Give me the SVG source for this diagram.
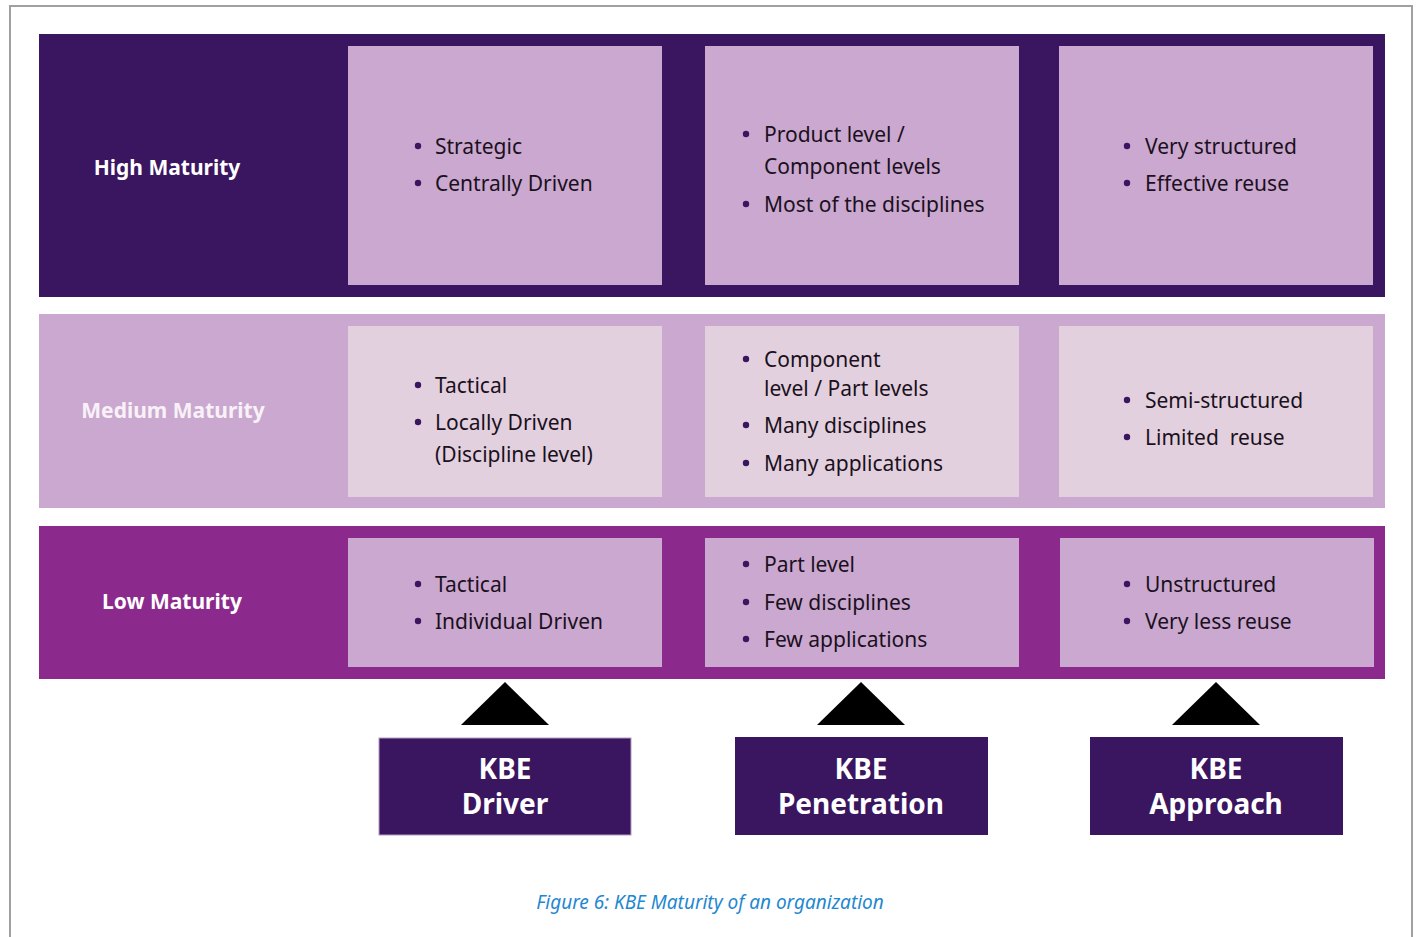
<svg xmlns="http://www.w3.org/2000/svg" width="1418" height="937" viewBox="0 0 1418 937">
<style>
.dark{fill:#3a1560}
.lilac{fill:#cba8cf}
.pale{fill:#e3d0de}
.mag{fill:#8b2a8c}
.t{font-family:"Noto Sans","Open Sans",sans-serif;font-size:21px;fill:#1a1020}
.b{fill:#3a1560}
.lbl{font-family:"Noto Sans","Open Sans",sans-serif;font-size:21px;font-weight:bold;text-anchor:middle}
.kbe{font-family:"Noto Sans","Open Sans",sans-serif;font-size:28px;font-weight:bold;fill:#ffffff;text-anchor:middle}
.cap{font-family:"Noto Sans","Open Sans",sans-serif;font-size:19px;font-style:italic;fill:#1f88cf;text-anchor:middle}
</style>
<rect x="0" y="0" width="1418" height="937" fill="#ffffff"/>
<path d="M10 940 V6 H1412 V940" fill="none" stroke="#a0a0a4" stroke-width="2"/>

<g id="high-maturity">
<rect class="dark" x="39" y="34" width="1346" height="263"/>
<text class="lbl" x="167" y="175" fill="#ffffff">High Maturity</text>
</g>
<g id="medium-maturity">
<rect class="lilac" x="39" y="314" width="1346" height="194"/>
<text class="lbl" x="173" y="418" fill="#f8f2f8">Medium Maturity</text>
</g>
<g id="low-maturity">
<rect class="mag" x="39" y="526" width="1346" height="153"/>
<text class="lbl" x="172" y="609" fill="#ffffff">Low Maturity</text>
</g>

<g id="high-driver">
<rect class="lilac" x="348" y="46" width="314" height="239"/>
<circle class="b" cx="418" cy="146" r="3.2"/><text class="t" x="435" y="154">Strategic</text>
<circle class="b" cx="418" cy="183" r="3.2"/><text class="t" x="435" y="191">Centrally Driven</text>
</g>
<g id="high-penetration">
<rect class="lilac" x="705" y="46" width="314" height="239"/>
<circle class="b" cx="746" cy="134" r="3.2"/><text class="t" x="764" y="142">Product level /</text>
<text class="t" x="764" y="174">Component levels</text>
<circle class="b" cx="746" cy="204" r="3.2"/><text class="t" x="764" y="212">Most of the disciplines</text>
</g>
<g id="high-approach">
<rect class="lilac" x="1059" y="46" width="314" height="239"/>
<circle class="b" cx="1127" cy="146" r="3.2"/><text class="t" x="1145" y="154">Very structured</text>
<circle class="b" cx="1127" cy="183" r="3.2"/><text class="t" x="1145" y="191">Effective reuse</text>
</g>

<g id="medium-driver">
<rect class="pale" x="348" y="326" width="314" height="171"/>
<circle class="b" cx="418" cy="385" r="3.2"/><text class="t" x="435" y="393">Tactical</text>
<circle class="b" cx="418" cy="422" r="3.2"/><text class="t" x="435" y="430">Locally Driven</text>
<text class="t" x="435" y="462">(Discipline level)</text>
</g>
<g id="medium-penetration">
<rect class="pale" x="705" y="326" width="314" height="171"/>
<circle class="b" cx="746" cy="359" r="3.2"/><text class="t" x="764" y="367">Component</text>
<text class="t" x="764" y="396">level / Part levels</text>
<circle class="b" cx="746" cy="425" r="3.2"/><text class="t" x="764" y="433">Many disciplines</text>
<circle class="b" cx="746" cy="463" r="3.2"/><text class="t" x="764" y="471">Many applications</text>
</g>
<g id="medium-approach">
<rect class="pale" x="1059" y="326" width="314" height="171"/>
<circle class="b" cx="1127" cy="400" r="3.2"/><text class="t" x="1145" y="408">Semi-structured</text>
<circle class="b" cx="1127" cy="437" r="3.2"/><text class="t" x="1145" y="445" xml:space="preserve">Limited  reuse</text>
</g>

<g id="low-driver">
<rect class="lilac" x="348" y="538" width="314" height="129"/>
<circle class="b" cx="418" cy="584" r="3.2"/><text class="t" x="435" y="592">Tactical</text>
<circle class="b" cx="418" cy="621" r="3.2"/><text class="t" x="435" y="629">Individual Driven</text>
</g>
<g id="low-penetration">
<rect class="lilac" x="705" y="538" width="314" height="129"/>
<circle class="b" cx="746" cy="564" r="3.2"/><text class="t" x="764" y="572">Part level</text>
<circle class="b" cx="746" cy="602" r="3.2"/><text class="t" x="764" y="610">Few disciplines</text>
<circle class="b" cx="746" cy="639" r="3.2"/><text class="t" x="764" y="647">Few applications</text>
</g>
<g id="low-approach">
<rect class="lilac" x="1060" y="538" width="314" height="129"/>
<circle class="b" cx="1127" cy="584" r="3.2"/><text class="t" x="1145" y="592">Unstructured</text>
<circle class="b" cx="1127" cy="621" r="3.2"/><text class="t" x="1145" y="629">Very less reuse</text>
</g>

<g id="connectors">
<polygon points="505,682 549,725 461,725" fill="#000000"/>
<polygon points="861,682 905,725 817,725" fill="#000000"/>
<polygon points="1216,682 1260,725 1172,725" fill="#000000"/>
</g>

<g id="kbe-driver">
<rect class="dark" x="379" y="738" width="252" height="97" stroke="#b89ac0" stroke-width="1"/>
<text class="kbe" x="505" y="779">KBE</text>
<text class="kbe" x="505" y="814">Driver</text>
</g>
<g id="kbe-penetration">
<rect class="dark" x="735" y="737" width="253" height="98"/>
<text class="kbe" x="861" y="779">KBE</text>
<text class="kbe" x="861" y="814">Penetration</text>
</g>
<g id="kbe-approach">
<rect class="dark" x="1090" y="737" width="253" height="98"/>
<text class="kbe" x="1216" y="779">KBE</text>
<text class="kbe" x="1216" y="814">Approach</text>
</g>

<text class="cap" x="710" y="909">Figure 6: KBE Maturity of an organization</text>
</svg>
